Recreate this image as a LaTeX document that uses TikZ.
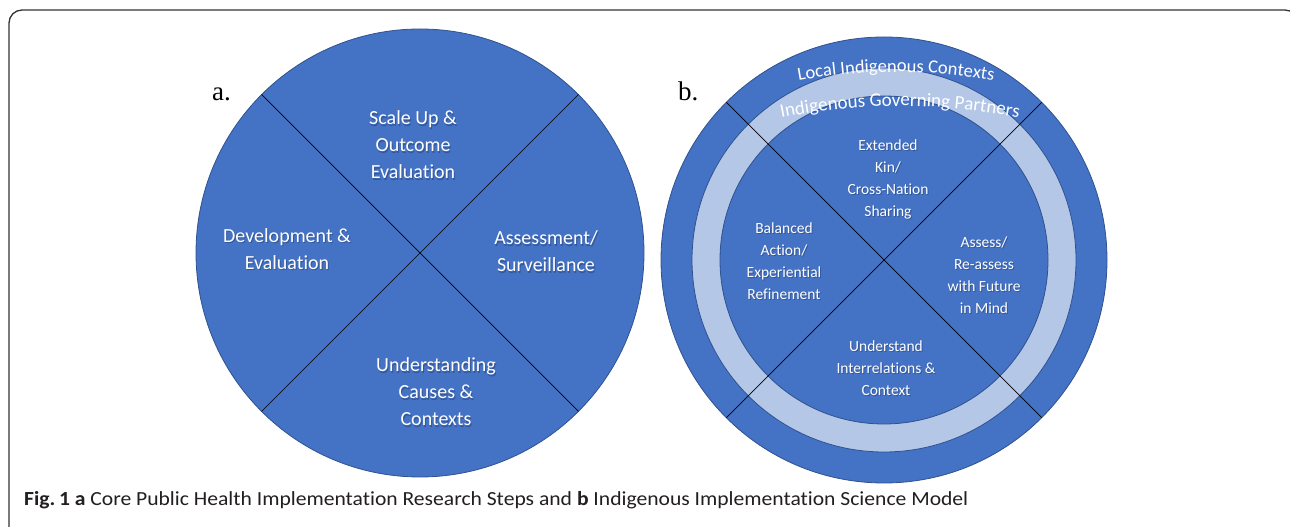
\documentclass[tikz,border=0pt]{standalone}
\usepackage{fontspec}
\usepackage{graphicx}
\usetikzlibrary{decorations.text,calc}
\setmainfont{Carlito}[Ligatures=NoCommon]
\newfontfamily\serifletter{Liberation Serif}
\definecolor{ringblue}{HTML}{4472C4}
\definecolor{ringlight}{HTML}{B4C7E7}
\definecolor{ringedge}{HTML}{2F528F}
\definecolor{shadowblue}{HTML}{1F3763}
\definecolor{framegray}{HTML}{333333}
\definecolor{captext}{HTML}{231F20}

% white label with a soft dark drop shadow underneath
\newcommand\shadowlabel[4]{%
  \node[#1, text=shadowblue, opacity=0.45] (#2-sh) at ($(#3)+(1,-1.3)$) {#4};
  \node[#1] (#2) at (#3) {#4};}

\begin{document}
\begin{tikzpicture}[x=1pt,y=1pt,
  disc/.style={circle, inner sep=0pt, outer sep=0pt, draw=ringedge, line width=0.8pt},
  divider/.style={draw=black, line width=0.7pt},
  biglabel/.style={text=white, align=center, inner sep=0pt, font=\fontsize{20}{27}\selectfont},
  smalllabel/.style={text=white, align=center, inner sep=0pt, font=\fontsize{15.5}{22}\selectfont},
  panel/.style={anchor=base west, inner sep=0pt, font=\serifletter\fontsize{27}{30}\selectfont},
  ]
\useasboundingbox (0,0) rectangle (1290,527);
\clip (0,0) rectangle (1290,527);
\fill[white] (0,0) rectangle (1290,527);

% outer frame, open towards the right and bottom edges
\draw[framegray, line width=1.3pt, rounded corners=13pt]
  (9,-30) -- (9,517) -- (1298,517) -- (1298,-30);

% panel a: four-step circle
\node[disc, fill=ringblue, minimum size=448pt] (ca) at (420,274) {};
\draw[divider] (ca.135) -- (ca.-45);
\draw[divider] (ca.45) -- (ca.-135);

\shadowlabel{biglabel}{scale}{413,382}{Scale Up \&\\Outcome\\Evaluation}
\shadowlabel{biglabel}{devel}{287,278}{Development \&\\Evaluation}
\shadowlabel{biglabel}{assess}{546,275.5}{Assessment/\\Surveillance}
\shadowlabel{biglabel}{causes}{436,135}{Understanding\\Causes \&\\Contexts}

\node[panel] (la) at (212,426) {a.};

% panel b: nested rings
\node[disc, fill=ringblue, minimum size=446pt] (cb) at (884,267) {};
\node[disc, fill=ringlight, minimum size=384pt] (cbmid) at (cb) {};
\node[disc, fill=ringblue, minimum size=328pt] (cbin) at (cb) {};
\draw[divider] (cb.135) -- (cb.-45);
\draw[divider] (cb.45) -- (cb.-135);

\shadowlabel{smalllabel}{kin}{888,348}{Extended\\Kin/\\Cross-Nation\\Sharing}
\shadowlabel{smalllabel}{bal}{784,266}{Balanced\\Action/\\Experiential\\Refinement}
\shadowlabel{smalllabel}{reass}{984,252}{Assess/\\Re-assess\\with Future\\in Mind}
\shadowlabel{smalllabel}{inter}{886,159}{Understand\\Interrelations \&\\Context}

% arched ring titles
\path[decorate, decoration={text along path, text align=center,
  text={|\fontsize{18.5}{20}\selectfont\color{white}|Local Indigenous Contexts}}]
  (896,-95) ++(110:550) arc (110:70:550);
\path[decorate, decoration={text along path, text align=center,
  text={|\fontsize{19}{20}\selectfont\color{white}|Indigenous Governing Partners}}]
  (900,-179) ++(105:600) arc (105:75:600);

\node[panel] (lb) at (678,426) {b.};

% caption
\node[anchor=base west, inner sep=0pt, text=captext] (cap) at (24,21)
  {\resizebox{944pt}{\height}{\fontsize{20}{24}\selectfont\textbf{Fig.\,1} \textbf{a} Core Public Health Implementation Research Steps and \textbf{b} Indigenous Implementation Science Model}};
\end{tikzpicture}
\end{document}
